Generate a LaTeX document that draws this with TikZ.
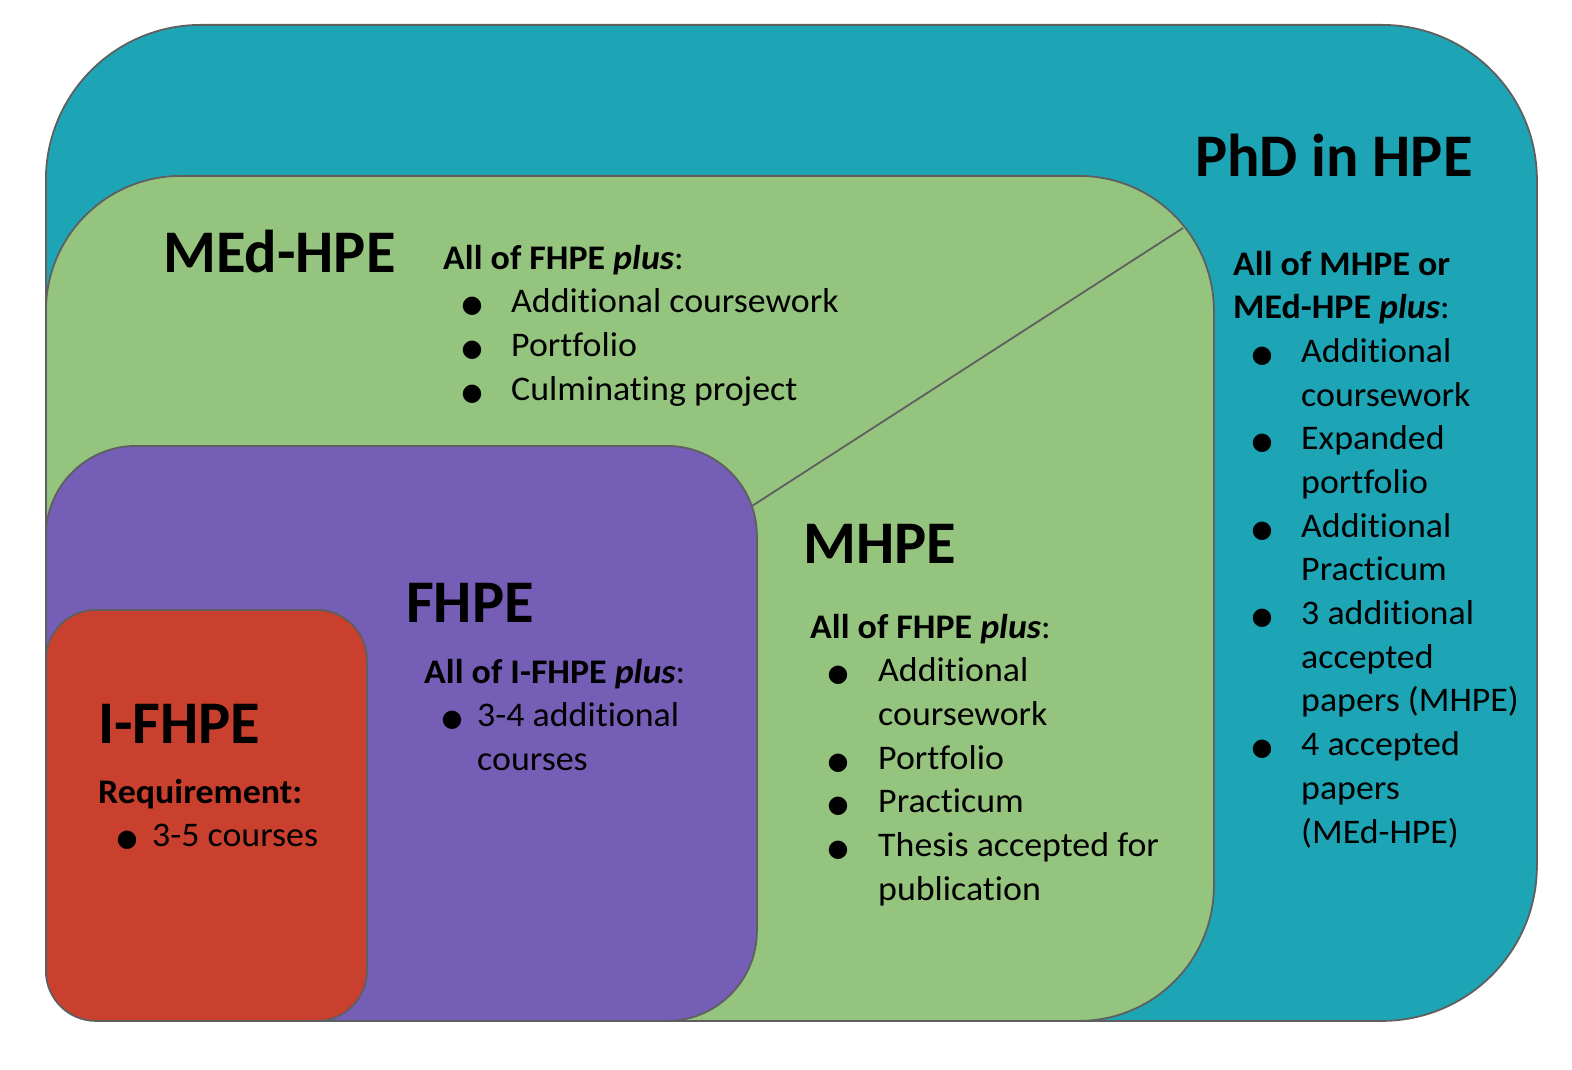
\documentclass[tikz,border=0pt]{standalone}
\usepackage{fontspec}
\setmainfont{Carlito}[FakeStretch=1.04, Ligatures=NoCommon]
\newfontfamily\titlefont{Carlito}[Ligatures=NoCommon]
\newfontfamily\dvs{DejaVu Sans}
\definecolor{phdc}{RGB}{29,165,182}
\definecolor{medc}{RGB}{149,196,127}
\definecolor{fhpec}{RGB}{117,94,182}
\definecolor{ifhpec}{RGB}{201,64,46}
\definecolor{edgec}{RGB}{95,95,95}
\newcommand\blt{\makebox[0pt]{\fontsize{24}{24}\selectfont\dvs ●}}
\newcommand\bitem[2]{\hspace*{#1}\blt\hspace*{#2}}
\tikzset{
  region/.style={draw=edgec, line width=1.8pt, anchor=north west, inner sep=0pt},
  ttl/.style={anchor=base west, inner sep=0pt, font=\titlefont\fontsize{60.5}{62}\selectfont\bfseries},
  txt/.style={anchor=base west, inner sep=0pt, font=\fontsize{34.5}{43.7}\selectfont},
}
\begin{document}
\begin{tikzpicture}[x=1pt,y=-1pt]
\useasboundingbox (0,0) rectangle (1572,1070);
\node[region, fill=phdc, minimum width=1491pt, minimum height=996pt, rounded corners=155pt] (phd) at (45,24) {};
\node[region, fill=medc, minimum width=1168pt, minimum height=845pt, rounded corners=135pt] (med) at (45,175) {};
\coordinate (d1) at (1183,228);
\coordinate (d2) at (752,506);
\draw[edgec, line width=1.8pt] (d1) -- (d2);
\node[region, fill=fhpec, minimum width=711pt, minimum height=575pt, rounded corners=90pt] (fhpe) at (45,445) {};
\node[region, fill=ifhpec, minimum width=321pt, minimum height=411pt, rounded corners=50pt] (ifhpe) at (45,609) {};

\node[ttl] (phdt) at (1195,177) {PhD in HPE};
\node[ttl] (medt) at (163,272) {MEd-HPE};
\node[ttl] (mhpet) at (803,563) {MHPE};
\node[ttl] (fhpet) at (406,622) {FHPE};
\node[ttl] (ifhpet) at (98,743) {I-FHPE};

\node[txt] (medx) at (443,269) {\begin{tabular}[t]{@{}l@{}}
\textbf{All of FHPE \textit{plus}}:\\
\bitem{29pt}{39pt}Additional coursework\\
\bitem{29pt}{39pt}Portfolio\\
\bitem{29pt}{39pt}Culminating project
\end{tabular}};

\node[txt] (mhpex) at (810,638) {\begin{tabular}[t]{@{}l@{}}
\textbf{All of FHPE \textit{plus}}:\\
\bitem{28pt}{40pt}Additional\\
\hspace*{68pt}coursework\\
\bitem{28pt}{40pt}Portfolio\\
\bitem{28pt}{40pt}Practicum\\
\bitem{28pt}{40pt}Thesis accepted for\\
\hspace*{68pt}publication
\end{tabular}};

\node[txt] (phdx) at (1233,275) {\begin{tabular}[t]{@{}l@{}}
\textbf{All of MHPE or}\\
\textbf{MEd-HPE \textit{plus}}:\\
\bitem{29pt}{39pt}Additional\\
\hspace*{68pt}coursework\\
\bitem{29pt}{39pt}Expanded\\
\hspace*{68pt}portfolio\\
\bitem{29pt}{39pt}Additional\\
\hspace*{68pt}Practicum\\
\bitem{29pt}{39pt}3 additional\\
\hspace*{68pt}accepted\\
\hspace*{68pt}papers (MHPE)\\
\bitem{29pt}{39pt}4 accepted\\
\hspace*{68pt}papers\\
\hspace*{68pt}(MEd-HPE)
\end{tabular}};

\node[txt] (fhpex) at (424,683) {\begin{tabular}[t]{@{}l@{}}
\textbf{All of I-FHPE \textit{plus}}:\\
\bitem{28pt}{25pt}3-4 additional\\
\hspace*{53pt}courses
\end{tabular}};

\node[txt] (ifhpex) at (98,803) {\begin{tabular}[t]{@{}l@{}}
\textbf{Requirement:}\\
\bitem{29pt}{25pt}3-5 courses
\end{tabular}};
\end{tikzpicture}
\end{document}
